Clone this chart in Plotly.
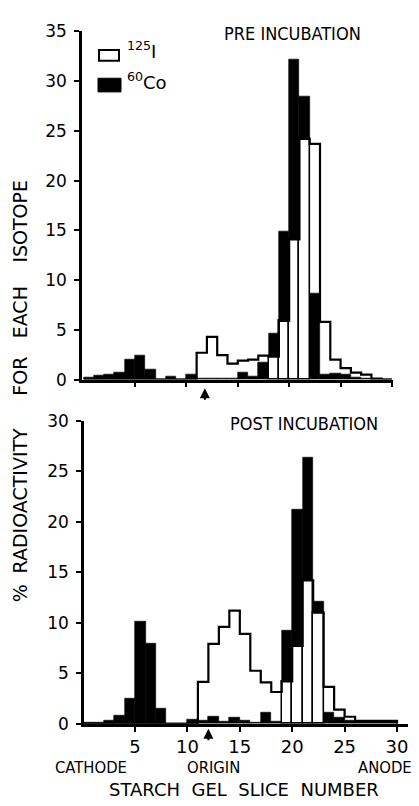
import plotly.graph_objects as go

# ---------------- data (slice n occupies [n, n+1]) ----------------
slices = list(range(30))

pre_co60 = [0.2, 0.4, 0.5, 0.7, 2.0, 2.4, 1.0, 0.05, 0.35, 0.05,
            0.5, 0.1, 0.1, 0.1, 0.1, 0.7, 0.3, 1.7, 4.6, 14.9,
            32.2, 28.5, 8.7, 0.5, 0.6, 0.5, 0.2, 0.1, 0.05, 0.05]
pre_i125 = [0, 0, 0, 0, 0, 0, 0, 0, 0, 0,
            0, 2.7, 4.3, 2.45, 1.6, 1.9, 2.0, 2.4, 2.3, 5.9,
            14.1, 24.2, 23.7, 5.8, 2.0, 1.15, 0.7, 0.5, 0.1, 0]

post_co60 = [0.1, 0.1, 0.35, 0.85, 2.5, 10.1, 7.9, 1.55, 0.05, 0.05,
             0.45, 0.35, 0.75, 0.2, 0.65, 0.3, 0.15, 1.15, 0.2, 9.2,
             21.2, 26.3, 12.1, 1.15, 0.6, 0.3, 0.2, 0.2, 0.2, 0.2]
post_i125 = [0, 0, 0, 0, 0, 0, 0, 0, 0, 0,
             0, 4.15, 7.9, 9.6, 11.2, 8.9, 5.25, 4.1, 3.15, 4.2,
             7.7, 14.2, 11.0, 3.65, 1.4, 0.7, 0.3, 0.3, 0.3, 0.3]

x_tick_vals = [5, 10, 15, 20, 25, 30]
pre_y_ticks = [0, 5, 10, 15, 20, 25, 30, 35]
post_y_ticks = [0, 5, 10, 15, 20, 25, 30]
origin_slice = 12

W, H = 419, 806
TICKFONT = dict(family="DejaVu Sans", size=17, color="black")
NARROW = "DejaVu Sans Condensed, Liberation Sans Narrow, Liberation Sans, sans-serif"

fig = go.Figure()


def add_panel(co, i125, xa, ya):
    centers = [n + 0.5 for n in slices]
    # black 60Co bars
    fig.add_trace(go.Bar(x=centers, y=co, width=1, xaxis=xa, yaxis=ya,
                         marker=dict(color="black", line=dict(color="black", width=0.6)),
                         name="60Co", showlegend=False))
    # white 125I bars where they sit in front of a taller black bar
    front = [w if (w > 0 and w < c) else None for w, c in zip(i125, co)]
    fig.add_trace(go.Bar(x=centers, y=front, width=1, xaxis=xa, yaxis=ya,
                         marker=dict(color="white", line=dict(color="black", width=1.5)),
                         showlegend=False))
    # white 125I histogram outline (step)
    xs = [slices[0]] + slices + [slices[-1] + 1, slices[-1] + 1]
    ys = [0] + list(i125) + [i125[-1], 0]
    fig.add_trace(go.Scatter(x=xs, y=ys, xaxis=xa, yaxis=ya, mode="lines",
                             line=dict(color="black", width=2.2, shape="hv"),
                             name="125I", showlegend=False))


add_panel(pre_co60, pre_i125, "x", "y")
add_panel(post_co60, post_i125, "x2", "y2")


def px(x):
    return x / W


def py(y):
    return 1 - y / H


axis_common = dict(showgrid=False, zeroline=False, showline=True, linecolor="black",
                   linewidth=2.5, ticks="outside", ticklen=5, tickwidth=2,
                   tickcolor="black", fixedrange=True)

fig.update_layout(
    width=W, height=H, margin=dict(l=0, r=0, t=0, b=0),
    paper_bgcolor="white", plot_bgcolor="white",
    barmode="overlay", bargap=0, showlegend=False,
    xaxis=dict(domain=[px(82), px(393)], range=[-0.15, 30.1], anchor="y",
               tickvals=x_tick_vals, showticklabels=False, **axis_common),
    yaxis=dict(domain=[py(379), py(22)], range=[0, 35], anchor="x",
               tickvals=pre_y_ticks, ticklabelstandoff=4, tickfont=TICKFONT, **axis_common),
    xaxis2=dict(domain=[px(84), px(408)], range=[0.13, 31.05], anchor="y2",
                tickvals=x_tick_vals, ticklabelstandoff=0,
                tickfont=dict(family="DejaVu Sans", size=18, color="black"), **axis_common),
    yaxis2=dict(domain=[py(732), py(421)], range=[0, 30], anchor="x2",
                tickvals=post_y_ticks, ticklabelstandoff=4, tickfont=TICKFONT, **axis_common),
)

ann = []


def text(x, y, s, size, family=NARROW, angle=0, xanchor="center", yanchor="middle", **kw):
    ann.append(dict(x=px(x), y=py(y), xref="paper", yref="paper", text=s, showarrow=False,
                    font=dict(family=family, size=size, color="black"), textangle=angle,
                    xanchor=xanchor, yanchor=yanchor, **kw))


# panel titles
text(292, 24, "PRE INCUBATION", 18)
text(304, 424, "POST INCUBATION", 18)

# legend labels
text(125, 41, "<sup>125</sup>I", 18, family="DejaVu Sans", xanchor="left")
text(125, 73, "<sup>60</sup>Co", 18, family="DejaVu Sans", xanchor="left")

# y title words (rotated)
for word, yc in [("%", 598), ("RADIOACTIVITY", 503), ("FOR", 376), ("EACH", 310), ("ISOTOPE", 217)]:
    text(20, yc, word, 19, family="DejaVu Sans", angle=-90)

# x annotations
text(91, 777, "CATHODE", 16.5)
text(213, 777, "ORIGIN", 16.5)
text(414, 777, "ANODE", 16.5, xanchor="right")
text(244, 799, "STARCH  GEL  SLICE  NUMBER", 18, family="DejaVu Sans")

# origin arrows (placed at the origin slice via data coordinates)
for xr, head_y in [("x", 388), ("x2", 737)]:
    ann.append(dict(x=origin_slice - (0.2 if xr == "x" else 0), xref=xr, y=py(head_y), yref="paper",
                    text="", showarrow=True, arrowhead=2, arrowsize=1, arrowwidth=2,
                    arrowcolor="black", ax=0, ay=13, standoff=0))

fig.update_layout(annotations=ann)

# legend swatches
fig.add_shape(type="rect", xref="paper", yref="paper", x0=px(99), x1=px(119), y0=py(52), y1=py(41),
              line=dict(color="black", width=2), fillcolor="white")
fig.add_shape(type="rect", xref="paper", yref="paper", x0=px(98), x1=px(121), y0=py(84), y1=py(70),
              line=dict(color="black", width=1), fillcolor="black")

fig.write_html("out.html", config={"displayModeBar": False},
               post_script="document.body.style.margin='0';document.body.style.overflow='hidden';")
